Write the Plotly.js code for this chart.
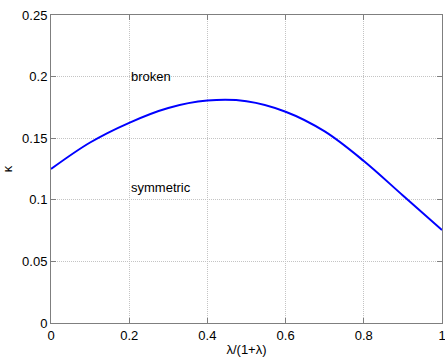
<!DOCTYPE html>
<html>
<head>
<meta charset="utf-8">
<script src="https://cdn.plot.ly/plotly-3.0.1.min.js"></script>
<style>html,body{margin:0;padding:0;background:#fff;}#plot{width:445px;height:360px;}</style>
</head>
<body>
<div id="plot"></div>
<script>
const xValues = [0, 0.1, 0.2, 0.3, 0.4, 0.5, 0.6, 0.7, 0.8, 0.9, 1.0];
const kappaValues = [0.125, 0.1465, 0.1625, 0.1745, 0.1805, 0.180, 0.1715, 0.1555, 0.1315, 0.1035, 0.0755];
const xTicks = [0, 0.2, 0.4, 0.6, 0.8, 1];
const xTickLabels = ["0", "0.2", "0.4", "0.6", "0.8", "1"];
const yTicks = [0, 0.05, 0.1, 0.15, 0.2, 0.25];
const yTickLabels = ["0", "0.05", "0.1", "0.15", "0.2", "0.25"];
const annotationTexts = ["broken", "symmetric"];
const annotationX = [0.2, 0.2];
const annotationY = [0.2, 0.11];

const font = {family: "Liberation Sans, Arial, sans-serif", size: 13, color: "#000"};
const axisCommon = {
  showline: true, mirror: "ticks", linecolor: "#7f7f7f", linewidth: 1,
  ticks: "inside", ticklen: 5, tickcolor: "#7f7f7f", tickwidth: 1,
  showgrid: true, gridcolor: "#c4c4c4", griddash: "1px,1px", gridwidth: 1,
  zeroline: false, tickfont: font, fixedrange: true, ticklabeloverflow: "allow"
};
const data = [{
  x: xValues, y: kappaValues, type: "scatter", mode: "lines",
  line: {color: "#0000ff", width: 2, shape: "spline", smoothing: 1}
}];
const layout = {
  width: 445, height: 360,
  margin: {l: 51, r: 3, t: 15, b: 37},
  paper_bgcolor: "#fff", plot_bgcolor: "#fff",
  showlegend: false, font: font,
  xaxis: Object.assign({}, axisCommon, {
    range: [0, 1], tickvals: xTicks, ticktext: xTickLabels,
    title: {text: "λ/(1+λ)", font: font, standoff: 3}
  }),
  yaxis: Object.assign({}, axisCommon, {
    range: [0, 0.25], tickvals: yTicks, ticktext: yTickLabels,
    title: {text: "κ", font: font, standoff: 10}
  }),
  annotations: annotationTexts.map((t, i) => ({
    x: annotationX[i], y: annotationY[i], xref: "x", yref: "y",
    text: t, showarrow: false, xanchor: "left", yanchor: "middle", font: font
  }))
};
Plotly.newPlot("plot", data, layout, {displayModeBar: false, staticPlot: true});
</script>
</body>
</html>
